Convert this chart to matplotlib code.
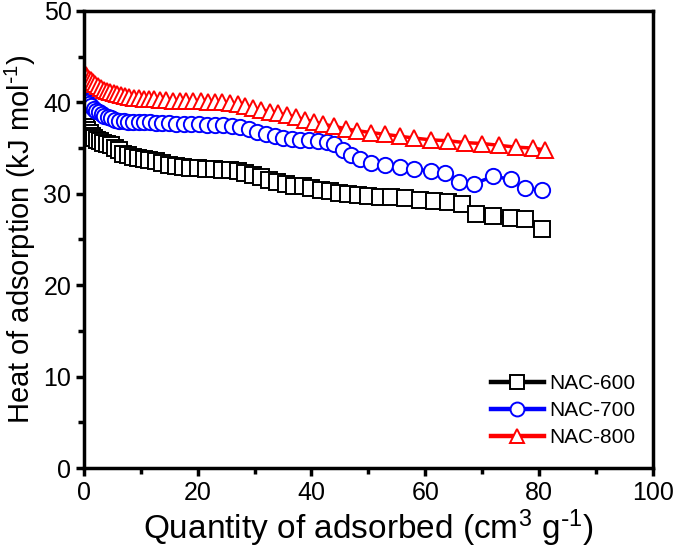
import matplotlib
matplotlib.use("Agg")
import matplotlib.pyplot as plt
from matplotlib.ticker import MultipleLocator

plt.rcParams["font.family"] = ["Liberation Sans", "DejaVu Sans"]
plt.rcParams["mathtext.default"] = "regular"

# NAC-600 (black squares)
x_600 = [0.3, 0.6, 1.0, 1.4, 1.8, 2.3, 2.8, 3.4, 4.0, 4.7, 5.4, 6.1, 6.9, 7.7, 8.6,
         9.5, 10.5, 11.5, 12.6, 13.7, 14.9, 16.1, 17.4, 18.7, 20.0, 21.4, 22.8, 24.2,
         25.6, 27.0, 28.4, 29.8, 31.2, 32.6, 34.0, 35.5, 37.0, 38.5, 40.0, 41.6, 43.2,
         44.8, 46.5, 48.2, 50.0, 52.0, 54.0, 56.5, 59.0, 61.5, 64.0, 66.5, 69.0, 72.0,
         75.0, 77.5, 80.5]
y_600 = [37.3, 37.0, 36.6, 36.3, 36.1, 35.9, 35.8, 35.6, 35.5, 35.3, 35.0, 34.8, 34.4,
         34.2, 34.0, 33.9, 33.8, 33.7, 33.6, 33.4, 33.2, 33.0, 32.9, 32.8, 32.8, 32.7,
         32.7, 32.6, 32.6, 32.5, 32.3, 32.1, 31.8, 31.5, 31.3, 31.1, 30.9, 30.8, 30.6,
         30.4, 30.3, 30.1, 30.0, 29.9, 29.8, 29.7, 29.6, 29.5, 29.3, 29.2, 29.1, 28.9,
         27.8, 27.6, 27.4, 27.2, 26.1]

# NAC-700 (blue circles)
x_700 = [0.3, 0.6, 0.9, 1.3, 1.7, 2.1, 2.6, 3.1, 3.6, 4.2, 4.8, 5.5, 6.2, 7.0, 7.8,
         8.7, 9.6, 10.6, 11.6, 12.7, 13.8, 15.0, 16.2, 17.5, 18.8, 20.2, 21.6, 23.0,
         24.5, 26.0, 27.5, 29.0, 30.5, 32.0, 33.5, 35.0, 36.5, 38.0, 39.6, 41.2, 42.8,
         44.0, 45.5, 47.0, 48.5, 50.5, 53.0, 55.5, 58.0, 61.0, 63.5, 66.0, 68.5, 72.0,
         75.0, 77.5, 80.5]
y_700 = [40.2, 40.0, 39.8, 39.6, 39.3, 39.1, 38.9, 38.7, 38.5, 38.4, 38.3, 38.1, 38.0,
         38.0, 37.9, 37.9, 37.8, 37.8, 37.8, 37.7, 37.7, 37.7, 37.6, 37.6, 37.6, 37.6,
         37.5, 37.5, 37.5, 37.4, 37.3, 37.1, 36.8, 36.5, 36.3, 36.1, 36.0, 35.9, 35.9,
         35.8, 35.7, 35.5, 34.8, 34.2, 33.8, 33.4, 33.1, 32.9, 32.7, 32.5, 32.3, 31.3,
         31.1, 31.9, 31.6, 30.6, 30.4]

# NAC-800 (red triangles)
x_800 = [0.3, 0.6, 0.9, 1.2, 1.6, 2.0, 2.5, 3.0, 3.5, 4.0, 4.6, 5.2, 5.8, 6.5, 7.2,
         8.0, 8.8, 9.6, 10.5, 11.4, 12.4, 13.4, 14.5, 15.6, 16.8, 18.0, 19.2, 20.5,
         21.8, 23.0, 24.3, 25.6, 27.0, 28.4, 29.8, 31.2, 32.7, 34.2, 35.7, 37.2, 38.8,
         40.4, 42.0, 44.0, 46.0, 48.0, 50.5, 53.0, 55.5, 58.0, 61.0, 64.0, 67.0, 70.0,
         73.0, 76.0, 79.0, 81.0]
y_800 = [43.0, 42.8, 42.6, 42.4, 42.2, 42.0, 41.8, 41.6, 41.4, 41.2, 41.1, 41.0, 40.9,
         40.8, 40.7, 40.6, 40.5, 40.5, 40.4, 40.4, 40.4, 40.3, 40.3, 40.2, 40.2, 40.2,
         40.1, 40.1, 40.0, 40.0, 40.0, 39.9, 39.8, 39.6, 39.4, 39.2, 39.0, 38.8, 38.6,
         38.4, 38.1, 37.9, 37.6, 37.4, 37.1, 36.9, 36.7, 36.5, 36.3, 36.1, 35.9, 35.8,
         35.6, 35.5, 35.3, 35.1, 35.0, 34.8]

series = [
    ("NAC-600", x_600, y_600, "s", "black"),
    ("NAC-700", x_700, y_700, "o", "#0000ff"),
    ("NAC-800", x_800, y_800, "^", "#ff0000"),
]

fig = plt.figure(figsize=(6.75, 5.54), dpi=100)
ax = fig.add_axes([0.1244, 0.1552, 0.8426, 0.8250])

for label, xs, ys, marker, color in series:
    ax.plot(xs, ys, marker=marker, color=color, linewidth=2.5,
            markersize=11, markerfacecolor="white", markeredgewidth=1.4,
            label=label)

ax.set_xlim(0, 100)
ax.set_ylim(0, 50)
ax.xaxis.set_major_locator(MultipleLocator(20))
ax.xaxis.set_minor_locator(MultipleLocator(10))
ax.yaxis.set_major_locator(MultipleLocator(10))
ax.yaxis.set_minor_locator(MultipleLocator(5))
ax.tick_params(which="major", direction="out", length=6, width=2.5,
               labelsize=18, pad=3)
ax.tick_params(which="minor", direction="out", length=4, width=2.5)
for spine in ax.spines.values():
    spine.set_linewidth(2.5)

ax.set_xlabel(r"Quantity of adsorbed (cm$^{3}$ g$^{\text{-}1}$)", fontsize=24, labelpad=2)
ax.set_ylabel(r"Heat of adsorption (kJ mol$^{\text{-}1}$)", fontsize=21, labelpad=4)

leg = ax.legend(loc="upper left", bbox_to_anchor=(0.715, 0.205), frameon=False,
                fontsize=15, handlelength=2.55, handletextpad=0.25,
                labelspacing=0.38, borderpad=0, borderaxespad=0)
for line in leg.get_lines():
    line.set_linewidth(3.2)
    line.set_markersize(10)

fig.savefig("out.png", dpi=100)
